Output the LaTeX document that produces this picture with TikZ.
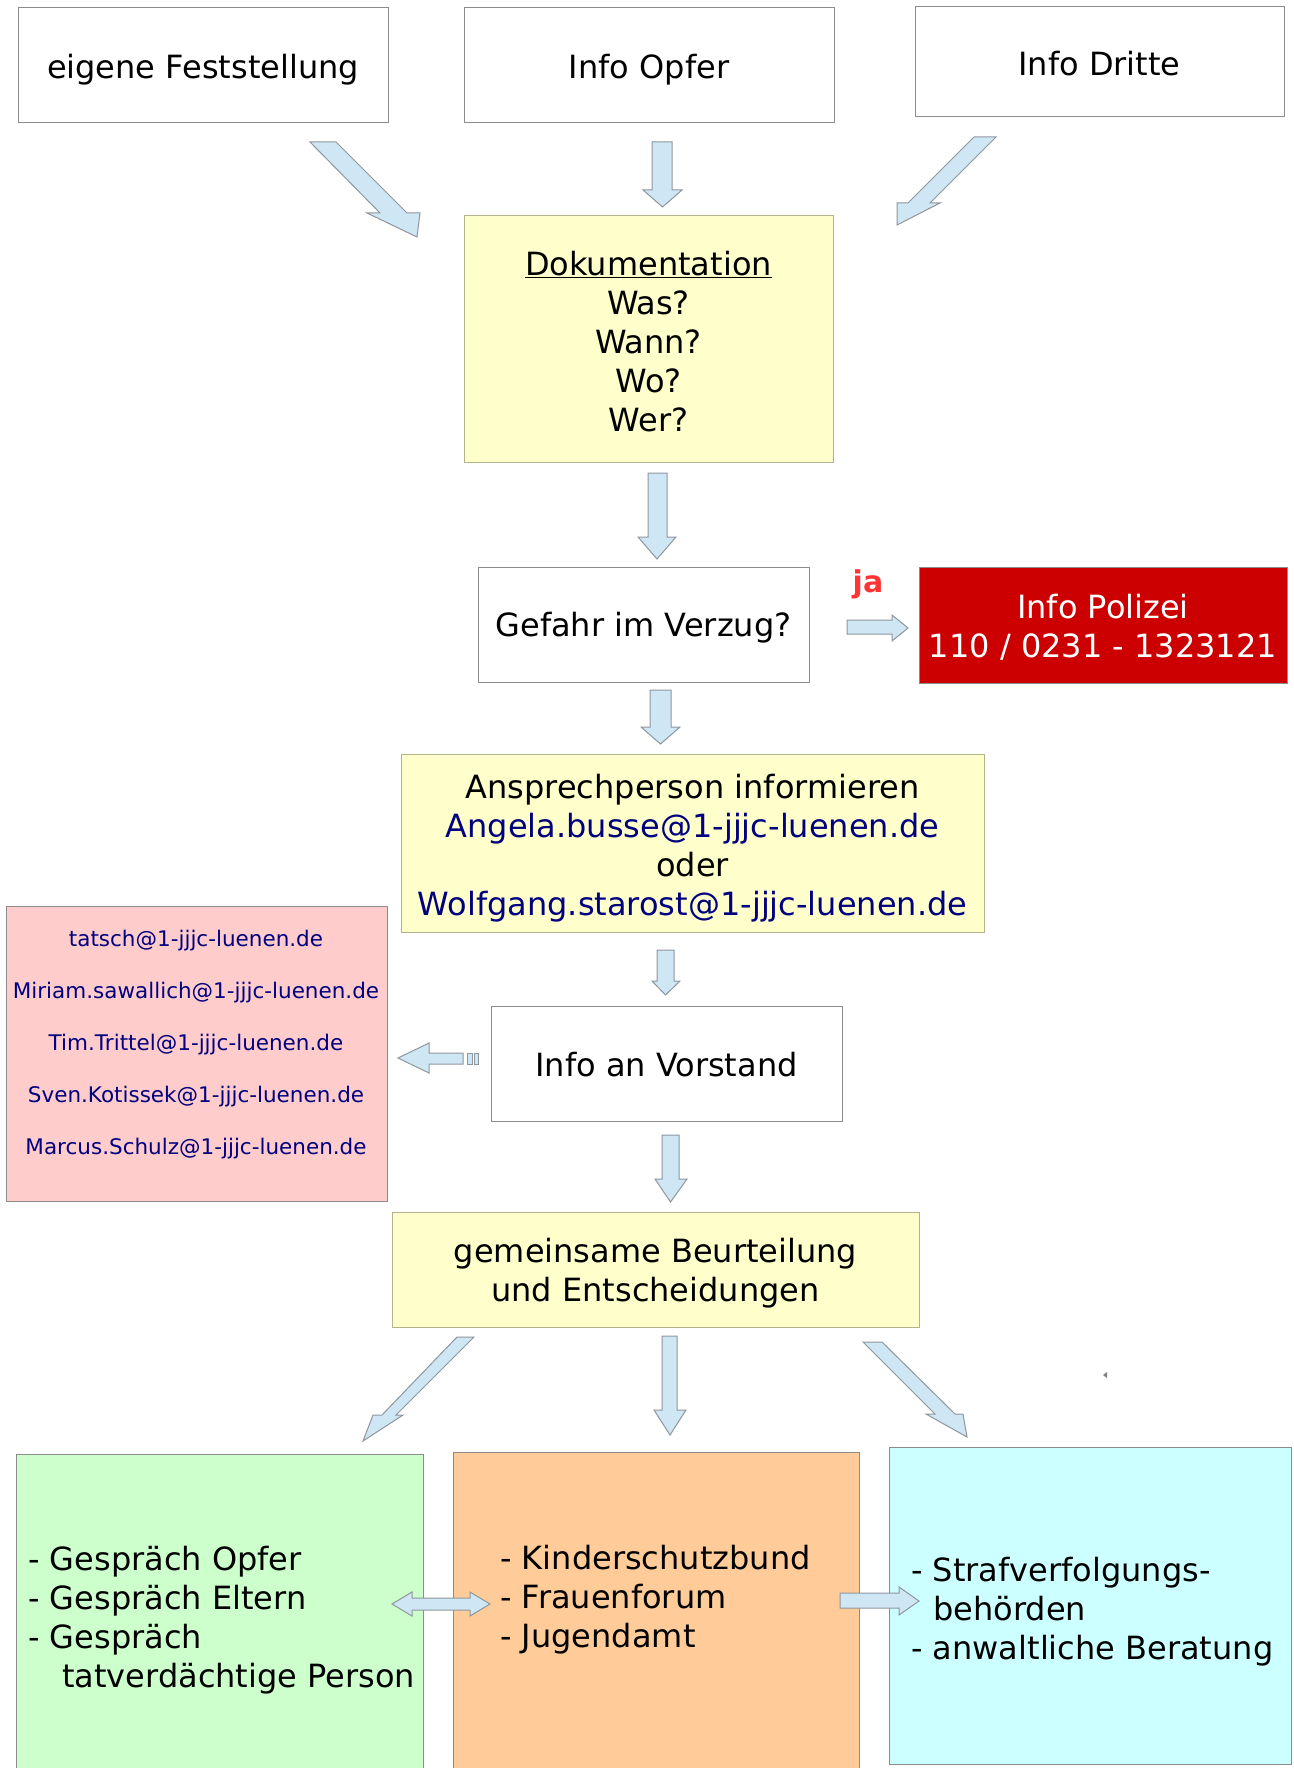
\documentclass[tikz,border=0pt]{standalone}
\usepackage{fontspec}
\setmainfont{DejaVu Sans}
\definecolor{boxline}{HTML}{8C8C8C}
\definecolor{yel}{HTML}{FFFFCC}
\definecolor{yelline}{HTML}{B4B48C}
\definecolor{pinkbox}{HTML}{FFCCCC}
\definecolor{greenbox}{HTML}{CCFFCC}
\definecolor{orangebox}{HTML}{FFCC99}
\definecolor{cyanbox}{HTML}{CCFFFF}
\definecolor{polred}{HTML}{CC0000}
\definecolor{arrfill}{HTML}{CFE7F5}
\definecolor{arrline}{HTML}{8F969C}
\definecolor{mailblue}{HTML}{000080}
\definecolor{jared}{HTML}{FF3333}
\tikzset{
  box/.style={draw=boxline, line width=1pt, inner sep=0pt},
  txt/.style={inner sep=0pt, align=center, font=\fontsize{32}{39}\selectfont},
  plain/.style={inner sep=0pt, font=\fontsize{32}{39}\selectfont},
  blockarrow/.style={fill=arrfill, draw=arrline, line width=1pt, line join=miter},
}
\begin{document}
\begin{tikzpicture}[x=1pt,y=-1pt]
\useasboundingbox (0,0) rectangle (1293,1768);
\fill[white] (0,0) rectangle (1293,1768);

% top row
\node[box, minimum width=370pt, minimum height=115pt] (eig) at (203,65.5) {};
\node[txt] (eigT) at ([yshift=-4.5pt]eig.center) {eigene Feststellung};
\node[box, minimum width=370pt, minimum height=115pt] (opf) at (649,65.5) {};
\node[txt] (opfT) at ([yshift=-4.5pt]opf.center) {Info Opfer};
\node[box, minimum width=369pt, minimum height=110pt] (dri) at (1099.5,62) {};
\node[txt] (driT) at ([yshift=-2pt]dri.center) {Info Dritte};

% Dokumentation
\node[box, fill=yel, draw=yelline, minimum width=369pt, minimum height=246pt] (doc) at (648.5,339) {};
\node[txt] (docT) at ([yshift=-2.3pt]doc.center) {\underline{Dokumentation}\\Was?\\Wann?\\Wo?\\Wer?};

% Gefahr
\node[box, minimum width=331pt, minimum height=115pt] (gef) at (643.5,624.5) {};
\node[txt] (gefT) at ([yshift=-3.4pt]gef.center) {Gefahr im Verzug?};
\node[box, fill=polred, draw=boxline, minimum width=368pt, minimum height=116pt] (pol) at (1103,625) {};
\node[txt, text=white] (polT) at ([yshift=-2.3pt]pol.center) {Info Polizei\\110 / 0231 - 1323121};
\node[inner sep=0pt, text=jared, font=\fontsize{30}{36}\selectfont\bfseries] (ja) at (868,584) {ja};

% Ansprechperson
\node[box, fill=yel, draw=yelline, minimum width=583pt, minimum height=178pt] (ans) at (692.5,843) {};
\node[txt] (ansT) at ([yshift=-5.6pt]ans.center)
  {Ansprechperson informieren\\\textcolor{mailblue}{Angela.busse@1-jjjc-luenen.de}\\oder\\\textcolor{mailblue}{Wolfgang.starost@1-jjjc-luenen.de}};

% Vorstand mails
\node[box, fill=pinkbox, minimum width=381pt, minimum height=295pt] (pink) at (196.5,1053.5) {};
\node[inner sep=0pt, align=center, text=mailblue, font=\fontsize{21.5}{52}\selectfont] (mails) at (196,1045)
  {tatsch@1-jjjc-luenen.de\\Miriam.sawallich@1-jjjc-luenen.de\\Tim.Trittel@1-jjjc-luenen.de\\Sven.Kotissek@1-jjjc-luenen.de\\Marcus.Schulz@1-jjjc-luenen.de};

\node[box, minimum width=351pt, minimum height=115pt] (vor) at (666.5,1063.5) {};
\node[txt] (vorT) at ([yshift=-1pt]vor.center) {Info an Vorstand};

% gemeinsame Beurteilung
\node[box, fill=yel, draw=yelline, minimum width=527pt, minimum height=115pt] (gem) at (655.5,1269.5) {};
\node[txt] (gemT) at ([yshift=-3.5pt]gem.center) {gemeinsame Beurteilung\\und Entscheidungen};

% bottom boxes
\node[box, fill=greenbox, minimum width=407pt, minimum height=318pt] (grn) at (219.5,1613) {};
\node[plain, anchor=west, align=left] (grntext) at (28,1620)
  {- Gespräch Opfer\\- Gespräch Eltern\\- Gespräch\\\hspace*{34pt}tatverdächtige Person};
\node[box, fill=orangebox, minimum width=406pt, minimum height=320pt] (org) at (656,1612) {};
\node[plain, anchor=west, align=left] (orgtext) at (500,1599.5)
  {- Kinderschutzbund\\- Frauenforum\\- Jugendamt};
\node[box, fill=cyanbox, minimum width=402pt, minimum height=317pt] (cyn) at (1090,1605.5) {};
\node[plain, anchor=west, align=left] (cyntext) at (911,1611.5)
  {- Strafverfolgungs-\\\hspace*{22pt}behörden\\- anwaltliche Beratung};

% block arrows
\draw[blockarrow] (310,142) -- (336,142) -- (407,213) -- (420,213) -- (417,237) -- (367,213) -- (380,213) -- cycle;
\draw[blockarrow] (652,142) -- (672,142) -- (672,190) -- (682,190) -- (662.5,207) -- (643,190) -- (652,190) -- cycle;
\draw[blockarrow] (974,137) -- (996,137) -- (930,203) -- (940,203) -- (897,225) -- (897,203) -- (908,203) -- cycle;

\draw[blockarrow] (648,473) -- (667,473) -- (667,537) -- (676,537) -- (657,559) -- (638,537) -- (648,537) -- cycle;
\draw[blockarrow] (847,620) -- (892,620) -- (892,615) -- (908,628) -- (892,641) -- (892,634) -- (847,634) -- cycle;
\draw[blockarrow] (650,690) -- (671,690) -- (671,727) -- (680,727) -- (660.5,744) -- (641,727) -- (650,727) -- cycle;
\draw[blockarrow] (657,950) -- (674,950) -- (674,981) -- (680,981) -- (665.5,995) -- (652,981) -- (657,981) -- cycle;

% arrow to board mails with stripes
\draw[blockarrow] (463,1053) -- (429,1053) -- (429,1043) -- (398,1058) -- (429,1073) -- (429,1064) -- (463,1064) -- cycle;
\draw[blockarrow] (467,1053) rectangle (472,1064);
\draw[blockarrow] (474,1053) rectangle (478,1064);

\draw[blockarrow] (662,1135) -- (679,1135) -- (679,1179) -- (687,1179) -- (670.5,1202) -- (655,1179) -- (662,1179) -- cycle;

\draw[blockarrow] (457,1337) -- (474,1337) -- (396,1415) -- (403,1415) -- (363,1441) -- (373,1415) -- (382,1415) -- cycle;
\draw[blockarrow] (662,1336) -- (677,1336) -- (677,1410) -- (686,1410) -- (670,1435) -- (654,1410) -- (662,1410) -- cycle;
\draw[blockarrow] (863,1342) -- (882,1342) -- (955,1414) -- (963,1414) -- (967,1437) -- (926,1414) -- (935,1414) -- cycle;

% double arrow and right arrow at bottom
\draw[blockarrow] (392,1604) -- (412,1592) -- (412,1598) -- (470,1598) -- (470,1592) -- (490,1604) -- (470,1616) -- (470,1610) -- (412,1610) -- (412,1616) -- cycle;
\draw[blockarrow] (840,1593) -- (899,1593) -- (899,1587) -- (919,1601) -- (899,1615) -- (899,1608) -- (840,1608) -- cycle;

% tiny mark
\fill[gray] (1103,1375) -- (1107,1372) -- (1107,1378) -- cycle;
\end{tikzpicture}
\end{document}
